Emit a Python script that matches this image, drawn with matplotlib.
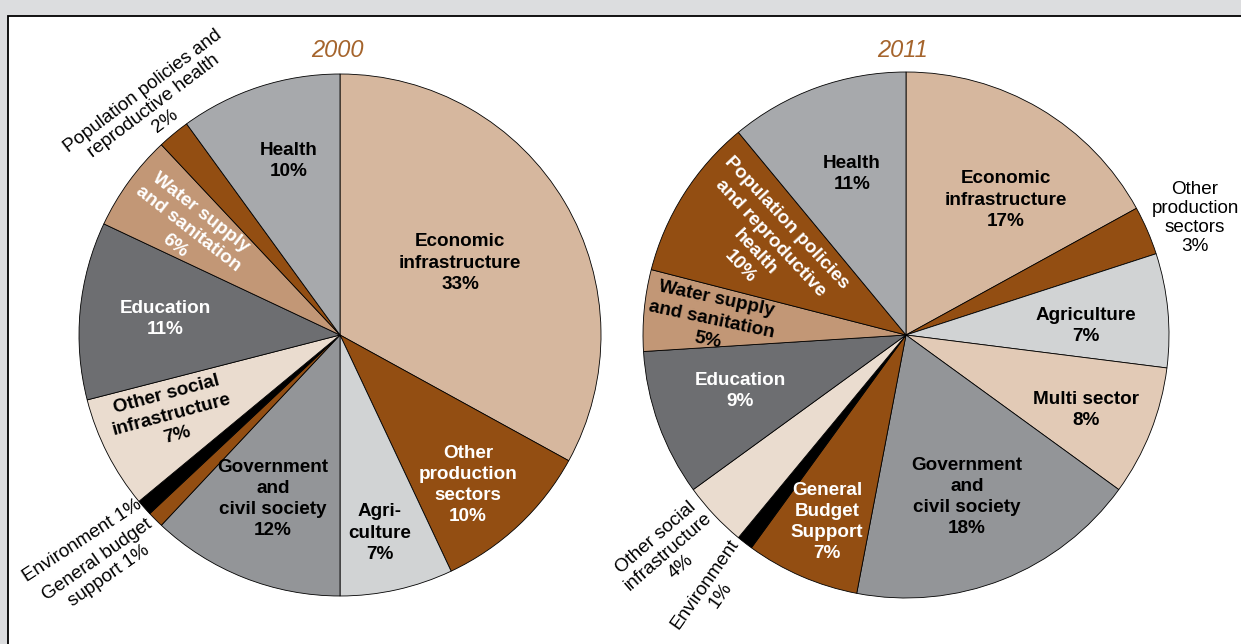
import matplotlib.pyplot as plt
from matplotlib.patches import Rectangle

plt.rcParams['font.family'] = ['Liberation Sans', 'DejaVu Sans']

# sector shares (%), clockwise from 12 o'clock
sectors_2000 = ["Economic infrastructure", "Other production sectors", "Agriculture",
                "Government and civil society", "General budget support", "Environment",
                "Other social infrastructure", "Education", "Water supply and sanitation",
                "Population policies and reproductive health", "Health"]
shares_2000 = [33, 10, 7, 12, 1, 1, 7, 11, 6, 2, 10]

sectors_2011 = ["Economic infrastructure", "Other production sectors", "Agriculture",
                "Multi sector", "Government and civil society", "General budget support",
                "Environment", "Other social infrastructure", "Education",
                "Water supply and sanitation", "Population policies and reproductive health",
                "Health"]
shares_2011 = [17, 3, 7, 8, 18, 7, 1, 4, 9, 5, 10, 11]

colours = {
    "Economic infrastructure": "#d6b79e",
    "Other production sectors": "#934e12",
    "Agriculture": "#d1d3d4",
    "Multi sector": "#e2cab6",
    "Government and civil society": "#939598",
    "General budget support": "#934e12",
    "Environment": "#000000",
    "Other social infrastructure": "#eadccf",
    "Education": "#6d6e71",
    "Water supply and sanitation": "#c29776",
    "Population policies and reproductive health": "#934e12",
    "Health": "#a7a9ac",
}

# label text, position (px), rotation, colour, weight -- one per slice
labels_2000 = [
    ("Economic\ninfrastructure\n{}%", (460, 263), 0, "black", "bold"),
    ("Other\nproduction\nsectors\n{}%", (468, 485), 0, "white", "bold"),
    ("Agri-\nculture\n{}%", (380, 533), 0, "black", "bold"),
    ("Government\nand\ncivil society\n{}%", (273, 499), 0, "black", "bold"),
    ("General budget\nsupport {}%", (103, 568), 35, "black", "normal"),
    ("Environment {}%", (82, 541), 33, "black", "normal"),
    ("Other social\ninfrastructure\n{}%", (172, 415), 15, "black", "bold"),
    ("Education\n{}%", (165, 319), 0, "white", "bold"),
    ("Water supply\nand sanitation\n{}%", (188, 229), -38, "white", "bold"),
    ("Population policies and\nreproductive health\n{}%", (154, 106), 37, "black", "normal"),
    ("Health\n{}%", (289, 161), 0, "black", "bold"),
]
labels_2011 = [
    ("Economic\ninfrastructure\n{}%", (1006, 200), 0, "black", "bold"),
    ("Other\nproduction\nsectors\n{}%", (1195, 218), 0, "black", "normal"),
    ("Agriculture\n{}%", (1086, 326), 0, "black", "bold"),
    ("Multi sector\n{}%", (1086, 410), 0, "black", "bold"),
    ("Government\nand\ncivil society\n{}%", (967, 497), 0, "black", "bold"),
    ("General\nBudget\nSupport\n{}%", (827, 522), 0, "white", "bold"),
    ("Environment\n{}%", (713, 590), 55, "black", "normal"),
    ("Other social\ninfrastructure\n{}%", (668, 552), 41, "black", "normal"),
    ("Education\n{}%", (740, 391), 0, "white", "bold"),
    ("Water supply\nand sanitation\n{}%", (712, 320), -12, "black", "bold"),
    ("Population policies\nand reproductive\nhealth\n{}%", (763, 245), -47, "white", "bold"),
    ("Health\n{}%", (852, 174), 0, "black", "bold"),
]

fig = plt.figure(figsize=(12.41, 6.44), dpi=100, facecolor="#dcdddf")
ax = fig.add_axes([0, 0, 1, 1])
ax.set_axis_off()

# white panel with a black frame
ax.add_patch(Rectangle((7.5, 15.5), 1300, 700, facecolor="white",
                       edgecolor="black", lw=1.3, zorder=0))


def draw_pie(shares, sectors, labels, centre, radius, year, title_xy):
    # y axis runs downward, so counterclock=True turns clockwise on screen
    ax.pie(shares, colors=[colours[s] for s in sectors], center=centre,
           radius=radius, startangle=-90, counterclock=True,
           wedgeprops=dict(edgecolor="black", linewidth=0.6))
    for (text, xy, rot, col, weight), val in zip(labels, shares):
        bold = weight == "bold"
        ax.text(xy[0], xy[1], text.format(val), ha="center", va="center",
                rotation=rot, color=col, fontweight=weight, fontsize=13.6,
                linespacing=1.33 if bold else 1.15, multialignment="center")
    ax.text(title_xy[0], title_xy[1], year, ha="center", va="center",
            fontsize=17, style="italic", color="#a5642c")


draw_pie(shares_2000, sectors_2000, labels_2000, (340, 335), 261, "2000", (337, 50))
draw_pie(shares_2011, sectors_2011, labels_2011, (906, 335), 263, "2011", (903, 50))

ax.set_xlim(0, 1241)
ax.set_ylim(644, 0)
ax.set_aspect("auto")

fig.savefig("out.png", dpi=100, facecolor=fig.get_facecolor())
